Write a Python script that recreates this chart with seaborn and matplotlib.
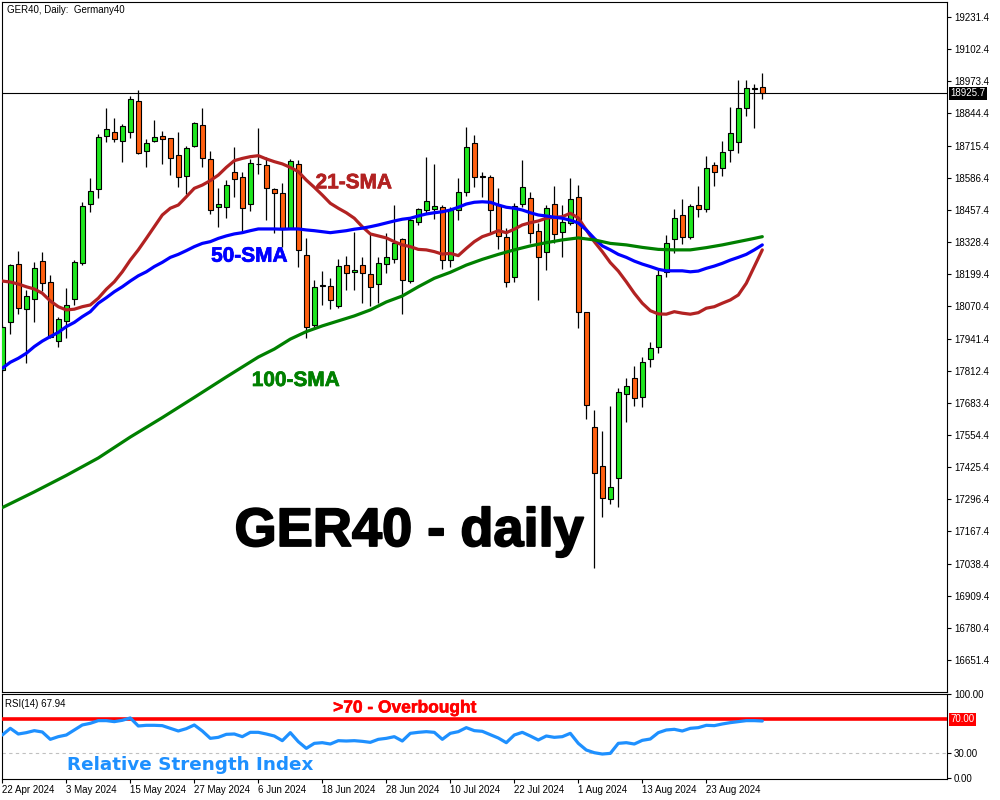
import numpy as np
import pandas as pd
import matplotlib
matplotlib.use("Agg")
import matplotlib.pyplot as plt
import matplotlib.transforms as mtransforms
import matplotlib.patheffects as pe
import seaborn as sns

# ---------------- data ----------------
opens = [17815, 18009, 18239, 18059, 18099, 18252, 18169, 17931, 18012, 18099,
         18243, 18480, 18541, 18755, 18771, 18735, 18771, 18894, 18695, 18735,
         18754, 18745, 18678, 18593, 18714, 18798, 18660, 18468, 18468, 18608,
         18588, 18480, 18643, 18638, 18540, 18524, 18386, 18642, 18276, 17996,
         18151, 18153, 18072, 18236, 18209, 18236, 18199, 18160, 18240, 18260,
         18339, 18173, 18408, 18457, 18462, 18470, 18256, 18457, 18528, 18725,
         18595, 18588, 18477, 18347, 18187, 18481, 18504, 18373, 18290, 18480,
         18368, 18404, 18508, 18046, 17585, 17431, 17296, 17380, 17717, 17782,
         17708, 17858, 17906, 18207, 18341, 18437, 18347, 18476, 18460, 18638,
         18624, 18698, 18729, 18865, 18944, 18949]
highs = [17996, 18240, 18292, 18136, 18250, 18290, 18196, 18029, 18143, 18256,
         18488, 18584, 18761, 18867, 18825, 18801, 18914, 18938, 18742, 18818,
         18774, 18745, 18769, 18715, 18811, 18866, 18694, 18544, 18577, 18709,
         18611, 18660, 18785, 18671, 18544, 18564, 18660, 18658, 18343, 18176,
         18213, 18183, 18259, 18272, 18370, 18270, 18364, 18270, 18364, 18477,
         18343, 18424, 18464, 18668, 18640, 18477, 18470, 18584, 18791, 18758,
         18611, 18597, 18544, 18384, 18484, 18658, 18530, 18404, 18477, 18553,
         18477, 18584, 18557, 18049, 17655, 17570, 17671, 17742, 17782, 17831,
         17866, 17929, 18216, 18357, 18460, 18501, 18481, 18553, 18674, 18651,
         18734, 18871, 18979, 18979, 18963, 19005]
lows = [17807, 17960, 18041, 17842, 18009, 18132, 17943, 17909, 17942, 18076,
        18236, 18450, 18504, 18729, 18729, 18648, 18747, 18680, 18631, 18731,
        18642, 18597, 18550, 18520, 18710, 18628, 18441, 18388, 18424, 18510,
        18370, 18454, 18601, 18417, 18364, 18310, 18384, 18227, 17942, 17982,
        18076, 18059, 18063, 18136, 18136, 18083, 18072, 18085, 18203, 18243,
        18040, 18165, 18397, 18444, 18420, 18219, 18230, 18417, 18513, 18550,
        18510, 18364, 18299, 18147, 18169, 18470, 18326, 18096, 18216, 18323,
        18270, 18397, 17982, 17617, 17019, 17226, 17276, 17266, 17608, 17672,
        17668, 17826, 17882, 18189, 18283, 18319, 18339, 18430, 18450, 18553,
        18593, 18651, 18687, 18835, 18785, 18901]
closes = [17988, 18236, 18063, 18112, 18223, 18163, 17949, 18018, 18076, 18247,
          18474, 18534, 18749, 18781, 18741, 18794, 18901, 18687, 18725, 18749,
          18741, 18664, 18588, 18705, 18805, 18664, 18457, 18480, 18557, 18580,
          18466, 18644, 18640, 18544, 18524, 18386, 18654, 18297, 17986, 18149,
          18155, 18096, 18234, 18203, 18218, 18203, 18147, 18243, 18270, 18326,
          18176, 18417, 18460, 18493, 18474, 18256, 18457, 18528, 18709, 18588,
          18588, 18457, 18353, 18167, 18474, 18548, 18364, 18267, 18464, 18360,
          18408, 18500, 18049, 17675, 17401, 17300, 17344, 17725, 17752, 17701,
          17846, 17902, 18196, 18323, 18424, 18347, 18473, 18460, 18624, 18611,
          18689, 18765, 18865, 18945, 18946, 18925.7]

sma21 = [18172, 18168, 18160, 18149, 18140, 18123, 18092, 18069, 18056, 18059,
         18069, 18076, 18103, 18139, 18169, 18209, 18256, 18297, 18343, 18390,
         18437, 18464, 18477, 18510, 18544, 18557, 18575, 18597, 18628, 18655,
         18664, 18671, 18675, 18662, 18651, 18642, 18628, 18611, 18577, 18548,
         18517, 18484, 18464, 18446, 18424, 18390, 18361, 18353, 18345, 18330,
         18317, 18310, 18299, 18297, 18290, 18280, 18283, 18274, 18303, 18330,
         18350, 18361, 18374, 18366, 18380, 18397, 18406, 18413, 18424, 18428,
         18430, 18444, 18425, 18377, 18330, 18290, 18246, 18212, 18169, 18123,
         18083, 18053, 18040, 18039, 18049, 18043, 18039, 18045, 18063, 18069,
         18083, 18096, 18116, 18163, 18230, 18297]
sma50 = [17822, 17846, 17862, 17882, 17909, 17931, 17949, 17966, 17989, 18006,
         18029, 18049, 18083, 18105, 18129, 18149, 18172, 18193, 18209, 18230,
         18247, 18267, 18279, 18294, 18310, 18323, 18330, 18343, 18353, 18361,
         18366, 18374, 18381, 18381, 18381, 18380, 18381, 18381, 18377, 18374,
         18370, 18366, 18370, 18374, 18380, 18384, 18390, 18397, 18405, 18413,
         18420, 18424, 18433, 18441, 18446, 18450, 18457, 18468, 18481, 18488,
         18490, 18488, 18477, 18468, 18464, 18457, 18446, 18437, 18433, 18428,
         18424, 18416, 18405, 18377, 18343, 18313, 18297, 18279, 18267, 18252,
         18240, 18230, 18219, 18213, 18213, 18213, 18209, 18212, 18223, 18232,
         18243, 18256, 18267, 18279, 18297, 18317]
sma100_idx = [0, 4, 8, 12, 16, 20, 24, 28, 32, 34, 36, 38, 40, 42, 44, 46, 48, 50,
              52, 54, 56, 58, 60, 62, 64, 66, 68, 70, 72, 74, 76, 78, 80, 82, 84,
              86, 88, 90, 92, 94, 95]
sma100 = [17263, 17326, 17392, 17462, 17546, 17624, 17705, 17787, 17867, 17899,
          17939, 17969, 17992, 18012, 18032, 18056, 18088, 18112, 18149, 18183,
          18207, 18236, 18259, 18279, 18297, 18313, 18326, 18337, 18345, 18337,
          18323, 18317, 18307, 18299, 18297, 18297, 18306, 18317, 18330, 18343,
          18350]

rsi = [51.2, 59.2, 52.4, 54.0, 56.4, 54.8, 46.0, 49.2, 51.2, 57.2,
       63.2, 65.2, 68.4, 68.4, 67.2, 68.8, 71.6, 62.0, 62.8, 62.8,
       62.4, 59.2, 56.0, 58.8, 63.2, 56.0, 47.2, 48.4, 52.0, 52.4,
       49.2, 54.4, 54.4, 52.4, 50.0, 44.4, 54.0, 43.2, 35.2, 41.2,
       42.0, 40.4, 44.4, 44.0, 44.4, 43.6, 42.4, 46.0, 47.2, 49.2,
       44.0, 53.2, 54.4, 55.2, 54.4, 46.0, 53.2, 55.2, 60.0, 56.4,
       55.6, 51.6, 47.6, 42.0, 51.2, 54.4, 50.0, 45.2, 50.0, 48.4,
       49.2, 53.2, 41.2, 33.2, 30.0, 28.4, 29.2, 41.2, 42.0, 40.4,
       44.8, 46.4, 54.0, 57.2, 58.0, 56.0, 59.2, 60.0, 62.8, 62.4,
       64.4, 66.0, 67.2, 68.4, 68.4, 67.94]

price_ticks = [19231.4, 19102.4, 18973.4, 18844.4, 18715.4, 18586.4, 18457.4,
               18328.4, 18199.4, 18070.4, 17941.4, 17812.4, 17683.4, 17554.4,
               17425.4, 17296.4, 17167.4, 17038.4, 16909.4, 16780.4, 16651.4]
date_idx = [0, 8, 16, 24, 32, 40, 48, 56, 64, 72, 80, 88]
date_labels = ["22 Apr 2024", "3 May 2024", "15 May 2024", "27 May 2024",
               "6 Jun 2024", "18 Jun 2024", "28 Jun 2024", "10 Jul 2024",
               "22 Jul 2024", "1 Aug 2024", "13 Aug 2024", "23 Aug 2024"]
last_price = 18925.7
rsi_last = 67.94

# ---------------- style ----------------
sns.set_style("white")
plt.rcParams['font.family'] = ['Liberation Sans', 'DejaVu Sans']

W, H = 1000, 800
fig = plt.figure(figsize=(10, 8), dpi=100)
fig.patch.set_facecolor('white')


def rect(l, t, r, b):
    return [l / W, 1 - b / H, (r - l) / W, (b - t) / H]


ax = fig.add_axes(rect(2, 1.5, 947, 691.5))
axr = fig.add_axes(rect(2, 693.5, 947, 779))

n = len(opens)
xi = np.arange(n)
o = np.array(opens, float)
h = np.array(highs, float)
lo = np.array(lows, float)
c = np.array(closes, float)
up = c >= o

BULL = '#1EE61E'
BEAR = '#FF6010'

# candles
ax.vlines(xi, lo, h, color='black', lw=0.9, zorder=2)
ax.bar(xi[up], np.maximum(c - o, 1.0)[up], bottom=o[up], width=0.66,
       color=BULL, edgecolor='black', linewidth=0.8, zorder=3)
ax.bar(xi[~up], np.maximum(o - c, 1.0)[~up], bottom=c[~up], width=0.66,
       color=BEAR, edgecolor='black', linewidth=0.8, zorder=3)

# moving averages
sns.lineplot(x=xi, y=sma21, ax=ax, color='#B22222', lw=2.3, errorbar=None, zorder=5)
sns.lineplot(x=xi, y=sma50, ax=ax, color='#0000FF', lw=2.3, errorbar=None, zorder=5)
sns.lineplot(x=sma100_idx, y=sma100, ax=ax, color='#008000', lw=2.3, errorbar=None, zorder=5)

ax.axhline(last_price, color='black', lw=0.8, zorder=1)

xmin = -0.0375
xmax = xmin + 945 / 8.0
ax.set_xlim(xmin, xmax)
ax.set_ylim(19231.4 - 674.5 * 4.0124, 19231.4 + 15.5 * 4.0124)
ax.set_xlabel('')
ax.set_ylabel('')
ax.set_xticks([])
ax.yaxis.tick_right()
ax.set_yticks(price_ticks)
ax.set_yticklabels([f"{v:.1f}" for v in price_ticks])
ax.tick_params(axis='y', direction='out', length=3, width=0.8, labelsize=7,
               pad=2, colors='black', right=True, left=False)
for sp in ax.spines.values():
    sp.set_visible(True)
    sp.set_color('black')
    sp.set_linewidth(0.8)

tr = mtransforms.blended_transform_factory(ax.transAxes, ax.transData)
ax.text(1.0035, last_price, f"{last_price:.1f}", transform=tr, ha='left', va='center',
        color='white', fontsize=7,
        bbox=dict(boxstyle='square,pad=0.15', fc='black', ec='none'), zorder=10, clip_on=False)

# ---------------- RSI panel ----------------
sns.lineplot(x=xi, y=rsi, ax=axr, color='#1E90FF', lw=2.3, errorbar=None, zorder=4)
axr.axhline(70, color='#FF0000', lw=2.6, zorder=3)
axr.axhline(30, color='#C0C0C0', lw=0.8, ls=(0, (3, 3)), zorder=2)
axr.set_xlim(xmin, xmax)
axr.set_ylim(-1.5, 100.9)
axr.set_xlabel('')
axr.set_ylabel('')
axr.yaxis.tick_right()
axr.set_yticks([0, 30, 100])
axr.set_yticklabels(["0.00", "30.00", "100.00"])
axr.tick_params(axis='y', direction='out', length=3, width=0.8, labelsize=7,
                pad=2, colors='black', right=True, left=False)
axr.set_xticks(date_idx)
axr.set_xticklabels(date_labels, ha='left')
axr.tick_params(axis='x', direction='out', length=3, width=0.8, labelsize=7,
                pad=1.5, colors='black', bottom=True)
for sp in axr.spines.values():
    sp.set_visible(True)
    sp.set_color('black')
    sp.set_linewidth(0.8)
trr = mtransforms.blended_transform_factory(axr.transAxes, axr.transData)
axr.text(1.0035, 70, "70.00", transform=trr, ha='left', va='center', color='white',
         fontsize=7, bbox=dict(boxstyle='square,pad=0.15', fc='#FF0000', ec='none'),
         zorder=10, clip_on=False)


# ---------------- texts ----------------
def ftext(px, py, s, **kw):
    return fig.text(px / W, 1 - py / H, s, **kw)


ftext(7, 13.3, "GER40, Daily:  Germany40", fontsize=7, color='black', va='baseline')
ftext(5, 706.7, f"RSI(14) {rsi_last:.2f}", fontsize=7, color='black', va='baseline')

for (px, py, s, col) in [(354, 188.3, "21-SMA", '#B22222'),
                         (249.5, 261.7, "50-SMA", '#0000FF'),
                         (296, 386, "100-SMA", '#008000')]:
    t = ftext(px, py, s, fontsize=15, fontweight='bold', color=col,
              ha='center', va='baseline')
    t.set_path_effects([pe.withStroke(linewidth=0.5, foreground=col)])

big = ftext(409, 546, "GER40 - daily", fontsize=39, fontweight='bold', color='black',
            ha='center', va='baseline')
big.set_path_effects([pe.withStroke(linewidth=1.3, foreground='black')])
ob = ftext(405, 712.5, ">70 - Overbought", fontsize=12.5, fontweight='bold', color='#FF0000',
           ha='center', va='baseline')
ob.set_path_effects([pe.withStroke(linewidth=0.4, foreground='#FF0000')])
fig.text(67 / W, 1 - 769.5 / H, "Relative Strength Index", fontsize=13.2,
         fontweight='bold', color='#1E90FF', ha='left', va='baseline',
         family=['DejaVu Sans'])

fig.savefig('out.png', dpi=100)
